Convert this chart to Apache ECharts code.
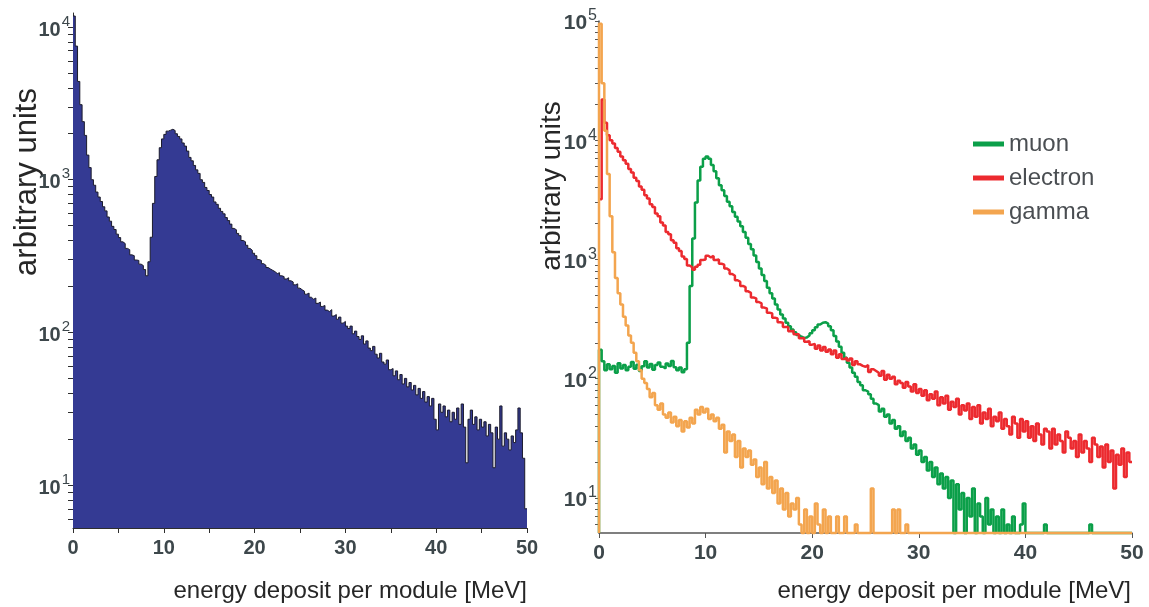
<!DOCTYPE html>
<html><head><meta charset="utf-8">
<script src="https://cdn.jsdelivr.net/npm/echarts@6/dist/echarts.min.js"></script>
<style>html,body{margin:0;padding:0;background:#fff}
#wrap{position:relative;width:1149px;height:607px;background:#fff}
#cl{position:absolute;left:0;top:0;width:560px;height:607px}
#cr{position:absolute;left:530px;top:0;width:619px;height:607px}</style>
</head><body><div id="wrap"><div id="cl"></div><div id="cr"></div></div>
<script>
const binWidth = 0.25;
const leftCounts = [11800,7500,4400,3100,2400,1950,1450,1200,1000,920,
830,770,720,665,625,570,535,495,472,440,
418,392,382,355,348,322,318,298,296,280,
274,258,235,290,420,700,1050,1350,1620,1850,
1980,2080,2110,2140,2100,2000,1920,1850,1740,1660,
1540,1400,1330,1240,1160,1100,1000,960,890,850,
800,770,715,690,650,620,598,565,540,512,
480,470,445,430,400,392,372,355,345,330,
318,300,296,282,275,266,260,255,250,243,
246,235,232,224,228,218,214,205,208,195,
190,186,178,181,170,165,168,155,158,148,
150,140,137,141,128,131,122,126,115,118,
110,106,110,98,102,94,90,95,84,88,
79,76,81,72,68,73,64,62,66,57,
58,52,56,49,53,46,50,44,47,42,
45,39,43,37,41,35,38,33,37,27,
23,34,30,33,28,31,26,30,27,32,
25,34,24,14,27,31,25,28,23,27,
24,26,21,25,22,13,24,20,33,18,
22,20,17,21,19,23,32,22,15,7];
const muonCounts = [175,140,118,132,120,128,112,135,122,130,
118,126,138,121,131,116,127,140,124,133,
119,130,137,126,122,134,128,141,125,118,
124,113,120,200,600,1500,3000,4600,6000,7000,
7300,7000,6200,5500,4800,4200,3800,3400,3050,2800,
2500,2280,2080,1900,1700,1520,1350,1220,1080,950,
840,740,660,580,520,470,420,380,345,320,
295,275,258,245,232,225,220,222,230,240,
255,270,285,295,298,290,275,255,228,205,
185,165,150,136,124,112,104,94,88,80,
78,74,68,62,60,53,56,48,50,42,
45,38,40,33,36,30,32,26,28,23,
25,20,22,17,20,15,18,13,16,12,
15,10,14,0,13,8,11,0,10,7,
12,0,9,7,0,10,6,8,0,7,
0,8,0,6,0,7,0,0,6,9,
0,0,0,0,0,0,0,6,0,0,
0,0,0,0,0,0,0,0,0,0,
0,0,0,0,6,0,0,0,0,0,
0,0,0,0,0,0,0,0,0,0];
const electronCounts = [3200,22000,14000,11000,10000,9400,8600,8000,7300,6800,
6350,5750,5350,4850,4550,4100,3850,3450,3250,2900,
2750,2430,2300,2040,1930,1700,1630,1450,1380,1240,
1180,1060,1010,890,860,820,870,905,990,1000,
1075,1040,1070,990,1000,920,905,840,810,755,
730,670,650,600,585,540,525,480,472,440,
428,395,388,358,352,325,320,298,295,272,
272,250,252,236,236,218,220,204,206,193,
196,178,190,172,184,168,176,160,172,150,
160,146,150,142,148,130,140,132,128,126,
130,114,120,116,112,106,116,98,108,100,
104,90,96,92,84,94,86,78,90,76,
82,72,80,66,74,68,78,60,70,62,
72,55,64,58,68,50,60,54,62,46,
58,48,60,42,52,46,56,40,48,44,
52,38,46,40,34,48,42,32,46,36,
44,32,40,30,42,34,28,38,36,26,
38,28,34,30,24,36,32,26,30,22,
34,24,30,26,20,32,28,22,27,18,
28,20,25,12,23,19,26,15,24,20];
const gammaCounts = [95000,30000,12000,5200,2300,1150,700,520,420,330,
280,230,200,165,140,118,100,92,82,70,
76,60,55,62,50,47,52,43,48,40,
45,36,44,39,47,42,55,50,58,52,
56,46,50,44,47,38,41,24,36,30,
34,22,30,18,26,22,25,19,21,15,
18,13,20,12,15,11,14,9,12,8,
11,7,9,8,10,6,0,8,0,7,
0,9,6,0,8,0,7,0,0,7,
0,0,7,0,0,0,6,0,0,0,
0,0,12,0,0,0,0,0,0,0,
8,0,8,0,0,6,0,0,0,0,
0,0,0,0,0,0,0,0,0,0,
0,0,0,0,0,0,0,0,0,0,
0,0,0,0,0,0,0,0,0,0,
0,0,0,0,0,0,0,0,0,0,
0,0,0,0,0,0,0,0,0,0,
0,0,0,0,0,0,0,0,0,0,
0,0,0,0,0,0,0,0,0,0,
0,0,0,0,0,0,0,0,0,0];
const seriesNames = ['muon', 'electron', 'gamma'];
const xTickLabels = [0, 10, 20, 30, 40, 50];
const leftYLabels = [10, 100, 1000, 10000];
const rightYLabels = [10, 100, 1000, 10000, 100000];
const yTitle = 'arbitrary units';
const xTitle = 'energy deposit per module [MeV]';
const LEFT_MIN = 5.24, LEFT_MAX = 12350, RIGHT_MIN = 5.08, RIGHT_MAX = 100000;

function steps(counts, floor, startFloor) {
  const d = [];
  if (startFloor) d.push([0, floor]);
  counts.forEach((c, i) => d.push([+(i * binWidth).toFixed(3), c > 0 ? c : floor]));
  const last = counts[counts.length - 1];
  d.push([counts.length * binWidth, last > 0 ? last : floor]);
  return d;
}
function minorTicks(min, max) {
  const t = [];
  for (let e = 0; e <= 5; e++) for (let m = 1; m <= 9; m++) {
    const v = m * Math.pow(10, e);
    if (v >= min && v <= max) t.push(v);
  }
  return t;
}
const FONT = '"Liberation Sans", Arial, sans-serif';
const LABEL_COLOR = '#3d474b';
const TITLE_COLOR = '#262626';
const supFmt = v => '{b|10}{s|' + Math.round(Math.log10(v)) + '}';
function richFor(big, small) {
  return {
    b: {fontSize: big, fontWeight: 'bold', color: LABEL_COLOR, fontFamily: FONT, lineHeight: 26, verticalAlign: 'bottom'},
    s: {fontSize: small, color: LABEL_COLOR, fontFamily: FONT, lineHeight: 12, verticalAlign: 'top', padding: [0, 0, 0, 1]}
  };
}
function xLabelStyle(size) {
  return {fontSize: size, fontWeight: 'bold', color: LABEL_COLOR, fontFamily: FONT, margin: 10,
    formatter: v => xTickLabels.includes(v) ? String(v) : ''};
}
function xTitleComp(rightGap) {
  return {text: xTitle, right: rightGap, top: 578, padding: 0,
    textStyle: {fontSize: 24, fontWeight: 'normal', color: TITLE_COLOR, fontFamily: FONT, lineHeight: 26}};
}

// Left panel
const left = echarts.init(document.getElementById('cl'));
left.setOption({
  animation: false,
  title: [xTitleComp(33)],
  grid: [{left: 73, top: 13, width: 454, height: 515}],
  xAxis: [{gridIndex: 0, type: 'value', min: 0, max: 50, interval: 5,
     axisLine: {lineStyle: {color: '#2e2e2e', width: 1}},
     axisTick: {length: 5, lineStyle: {color: '#2e2e2e'}},
     axisLabel: xLabelStyle(20), splitLine: {show: false}}],
  yAxis: [{gridIndex: 0, type: 'log', logBase: 10, min: LEFT_MIN, max: LEFT_MAX,
     name: yTitle, nameLocation: 'middle', nameRotate: 90, nameGap: 30, nameMoveOverlap: false,
     nameTextStyle: {fontSize: 31, color: TITLE_COLOR, fontFamily: FONT, padding: [0, 0, 0, 177]},
     axisLine: {show: true, lineStyle: {color: '#2e2e2e', width: 1}},
     axisTick: {show: true, interval: 0, length: 5, customValues: minorTicks(LEFT_MIN, LEFT_MAX), lineStyle: {color: '#2e2e2e'}},
     axisLabel: {customValues: leftYLabels, formatter: supFmt, margin: 3, rich: richFor(20, 15)},
     splitLine: {show: false}}],
  series: [{name: 'all', type: 'line', step: 'end', symbol: 'none',
     data: steps(leftCounts, LEFT_MIN, false),
     lineStyle: {color: '#1b1b2c', width: 1},
     areaStyle: {color: '#343a93', opacity: 1, origin: 'start'}}]
});

// Right panel
const right = echarts.init(document.getElementById('cr'));
right.setOption({
  animation: false,
  title: [xTitleComp(18)],
  grid: [{left: 68, top: 21, width: 534, height: 512}],
  xAxis: [{gridIndex: 0, type: 'value', min: 0, max: 50, interval: 10,
     axisLine: {lineStyle: {color: '#555', width: 1.5}},
     axisTick: {length: 5, lineStyle: {color: '#555'}},
     axisLabel: xLabelStyle(21), splitLine: {show: false}}],
  yAxis: [{gridIndex: 0, type: 'log', logBase: 10, min: RIGHT_MIN, max: RIGHT_MAX,
     name: yTitle, nameLocation: 'middle', nameRotate: 90, nameGap: 33, nameMoveOverlap: false,
     nameTextStyle: {fontSize: 28, color: TITLE_COLOR, fontFamily: FONT, padding: [0, 0, 0, 182]},
     axisLine: {show: true, lineStyle: {color: '#555', width: 1.5}},
     axisTick: {show: true, interval: 0, length: 4, customValues: minorTicks(RIGHT_MIN, RIGHT_MAX), lineStyle: {color: '#555'}},
     axisLabel: {customValues: rightYLabels, formatter: supFmt, margin: 2, rich: richFor(21, 16)},
     splitLine: {show: false}}],
  legend: {
    data: seriesNames, orient: 'vertical', left: 438, top: 127,
    icon: 'rect', itemWidth: 31, itemHeight: 5, itemGap: 10,
    textStyle: {fontSize: 24, color: '#4a4e52', fontFamily: FONT, lineHeight: 24}
  },
  series: [
    {name: 'muon', type: 'line', step: 'end', symbol: 'none', clip: false,
     data: steps(muonCounts, RIGHT_MIN, true), lineStyle: {color: '#0b9f49', width: 2.5}, itemStyle: {color: '#0b9f49'}},
    {name: 'electron', type: 'line', step: 'end', symbol: 'none', clip: false,
     data: steps(electronCounts, RIGHT_MIN, false), lineStyle: {color: '#ec2a2f', width: 2.5}, itemStyle: {color: '#ec2a2f'}},
    {name: 'gamma', type: 'line', step: 'end', symbol: 'none', clip: false,
     data: steps(gammaCounts, RIGHT_MIN, true), lineStyle: {color: '#f3a54f', width: 2.5}, itemStyle: {color: '#f3a54f'}}
  ]
});
</script></body></html>
